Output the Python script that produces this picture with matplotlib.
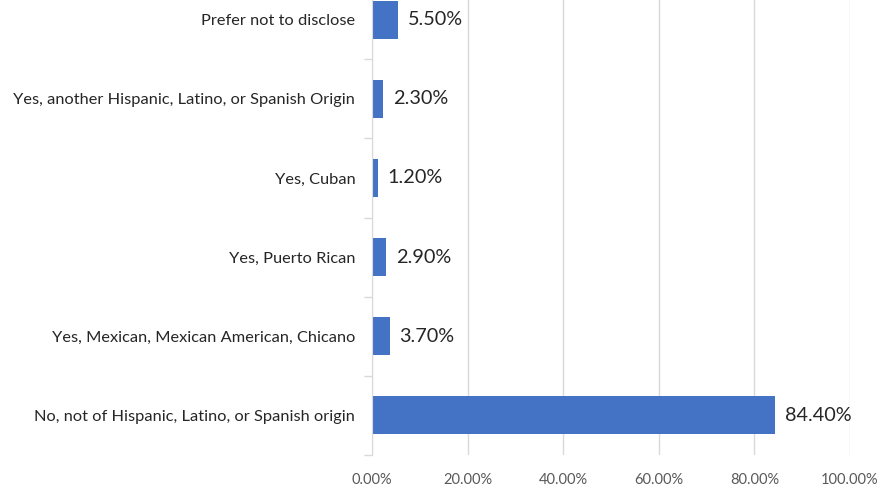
import matplotlib
matplotlib.use("Agg")
import matplotlib.pyplot as plt
from matplotlib.ticker import FixedLocator

categories = [
    "No, not of Hispanic, Latino, or Spanish origin",
    "Yes, Mexican, Mexican American, Chicano",
    "Yes, Puerto Rican",
    "Yes, Cuban",
    "Yes, another Hispanic, Latino, or Spanish Origin",
    "Prefer not to disclose",
]
values = [84.40, 3.70, 2.90, 1.20, 2.30, 5.50]
xticks = [0, 20, 40, 60, 80, 100]
xticklabels = ["0.00%", "20.00%", "40.00%", "60.00%", "80.00%", "100.00%"]

plt.rcParams['font.family'] = ['Lato', 'DejaVu Sans']

fig = plt.figure(figsize=(8.79, 4.87), dpi=100)
W, H = 879, 487
left, right = 372 / W, 850 / W
bottom = (H - 455) / H
top = 1 + 20 / H
ax = fig.add_axes([left, bottom, right - left, top - bottom])

ypos = list(range(len(categories)))
ax.barh(ypos, values, height=0.48, color="#4472C4", zorder=3)

for y, v in zip(ypos, values):
    ax.annotate(f"{v:.2f}%", xy=(v, y), xytext=(7, 0), textcoords="offset points",
                va="center", ha="left", fontsize=14.3, color="#262626")

ax.set_xlim(0, 100)
ax.set_ylim(-0.5, 5.5)
ax.set_xticks(xticks)
ax.set_xticklabels(xticklabels, fontsize=10.5, color="#595959")
ax.set_yticks(ypos)
ax.set_yticklabels(categories, fontsize=11.8, color="#262626")
ax.yaxis.set_minor_locator(FixedLocator([i - 0.5 for i in range(len(categories) + 1)]))
ax.tick_params(axis="y", which="major", length=0, pad=12)
ax.tick_params(axis="y", which="minor", length=6, color="#D9D9D9", width=1)
ax.tick_params(axis="x", length=0, pad=13)

ax.grid(axis="x", color="#D9D9D9", linewidth=1, zorder=0)
for s in ["top", "right", "bottom"]:
    ax.spines[s].set_visible(False)
ax.spines["left"].set_color("#D9D9D9")
ax.spines["left"].set_zorder(4)

fig.savefig("out.png", dpi=100)
